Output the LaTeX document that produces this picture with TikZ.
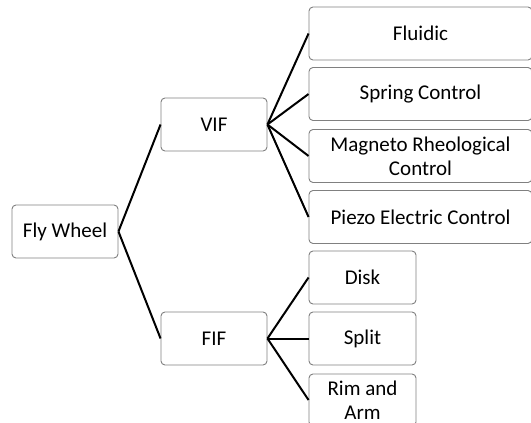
\documentclass[tikz,border=0pt]{standalone}
\usepackage{fontspec}
\setmainfont{Carlito}
\begin{document}
\begin{tikzpicture}[x=1pt,y=-1pt,
  box/.style={draw=black!50, line width=0.9pt, rounded corners=4pt, fill=white,
    minimum height=53pt, inner sep=0pt, align=center,
    font=\fontsize{21}{24}\selectfont},
  link/.style={draw=black, line width=2pt}]
\useasboundingbox (0,0) rectangle (531,423);
\node[box, minimum width=106pt] (fly) at (65,231.5) {Fly Wheel};
\node[box, minimum width=106pt] (vif) at (214,124.5) {VIF};
\node[box, minimum width=106pt] (fif) at (214,338.5) {FIF};
\node[box, minimum width=223pt] (flu) at (420.5,33.5) {Fluidic};
\node[box, minimum width=223pt] (spr) at (420.5,94) {Spring Control};
\node[box, minimum width=223pt] (mag) at (420.5,156) {Magneto Rheological\\Control};
\node[box, minimum width=223pt] (pie) at (420.5,217) {Piezo Electric Control};
\node[box, minimum width=107pt] (dis) at (362.5,277.5) {Disk};
\node[box, minimum width=107pt] (spl) at (362.5,338.5) {Split};
\node[box, minimum width=107pt, minimum height=52pt] (rim) at (362.5,400) {Rim and\\Arm};
\draw[link] (fly.east) -- (vif.west);
\draw[link] (fly.east) -- (fif.west);
\draw[link] (vif.east) -- (flu.west);
\draw[link] (vif.east) -- (spr.west);
\draw[link] (vif.east) -- (mag.west);
\draw[link] (vif.east) -- (pie.west);
\draw[link] (fif.east) -- (dis.west);
\draw[link] (fif.east) -- (spl.west);
\draw[link] (fif.east) -- (rim.west);
\end{tikzpicture}
\end{document}
